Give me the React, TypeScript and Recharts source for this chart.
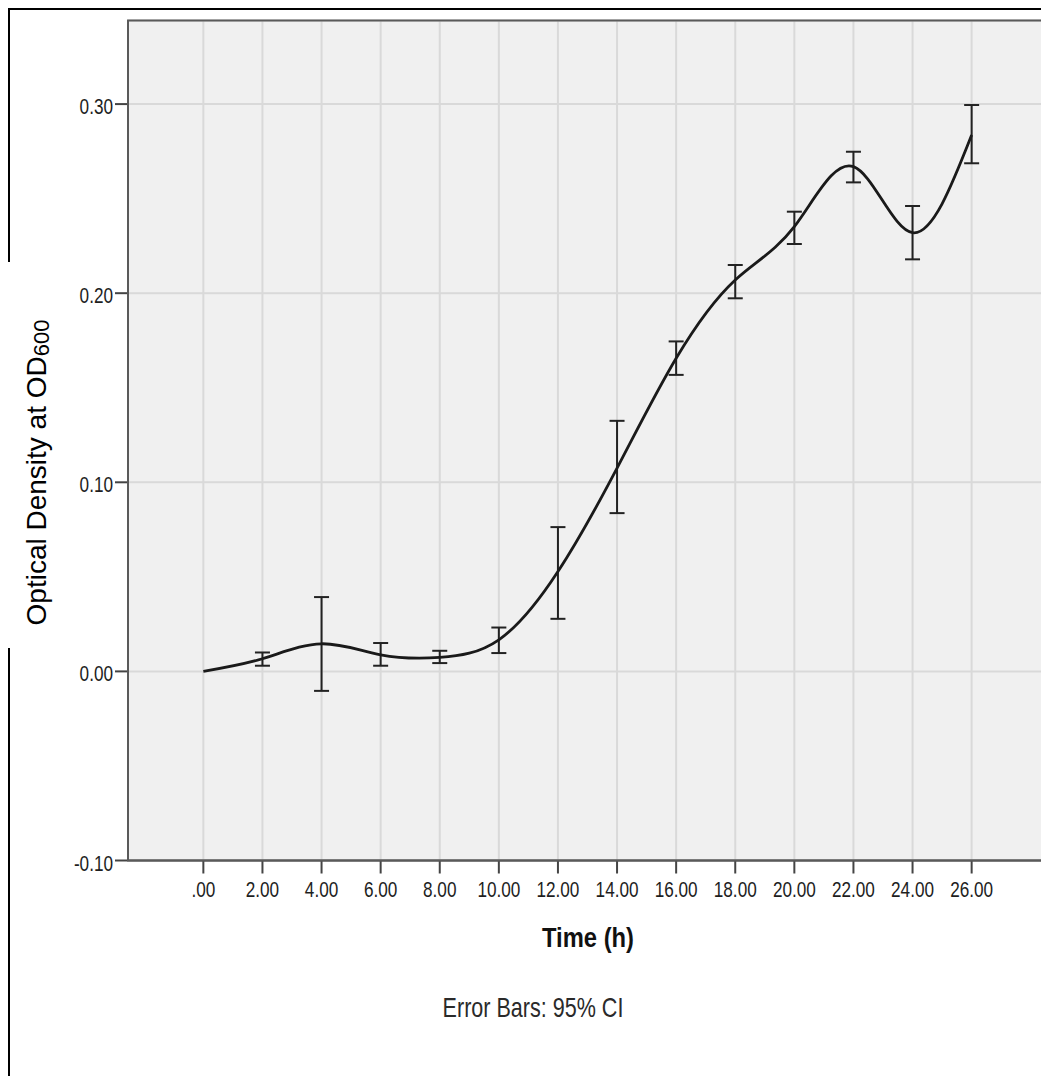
import { LineChart, Line, XAxis, YAxis, CartesianGrid, ErrorBar } from 'recharts'

// time points (h)
const times = [0, 2, 4, 6, 8, 10, 12, 14, 16, 18, 20, 22, 24, 26]
// mean OD600
const means = [0.0, 0.0067, 0.0146, 0.0088, 0.0074, 0.0167, 0.0528, 0.1075, 0.1656, 0.207, 0.2352, 0.2669, 0.232, 0.2836]
// 95% CI bounds (no bar at t = 0)
const lower = [null, 0.003, -0.0103, 0.003, 0.0044, 0.0097, 0.0278, 0.0837, 0.1568, 0.1973, 0.226, 0.2586, 0.2179, 0.2687]
const upper = [null, 0.01, 0.0393, 0.015, 0.0109, 0.0232, 0.0763, 0.1325, 0.1745, 0.2149, 0.2431, 0.2748, 0.2461, 0.2995]

const xTicks = [0, 2, 4, 6, 8, 10, 12, 14, 16, 18, 20, 22, 24, 26]
const yTicks = [-0.1, 0, 0.1, 0.2, 0.3]

const X_DOMAIN: [number, number] = [-2.55, 28.54]
const Y_DOMAIN: [number, number] = [-0.1, 0.3442]

const data = times.map((t, i) => ({
  time: t,
  od: means[i],
  ci: lower[i] == null || upper[i] == null ? null : [means[i] - (lower[i] as number), (upper[i] as number) - means[i]],
}))

const FONT = 'Arial, "Liberation Sans", sans-serif'

const W = 1041
const H = 1076
const M = { top: 12.5, right: 2.3, bottom: 183.5, left: 0 }
const Y_AXIS_W = 120
const X_AXIS_H = 40

// SPSS-ish narrow tick labels
function XTick(props: any) {
  const { x, y, payload } = props
  const v = Number(payload.value)
  const label = v === 0 ? '.00' : v.toFixed(2)
  return (
    <text transform={`translate(${x},${y + 21}) scale(0.78,1)`} textAnchor="middle" fontSize={22} fontFamily={FONT} fill="#1e1e1e">
      {label}
    </text>
  )
}

function YTick(props: any) {
  const { x, y, payload } = props
  const label = Number(payload.value).toFixed(2)
  return (
    <text transform={`translate(${x},${y + 10}) scale(0.78,1)`} textAnchor="end" fontSize={22} fontFamily={FONT} fill="#1e1e1e">
      {label}
    </text>
  )
}

export default function App() {
  const plotX = M.left + Y_AXIS_W
  const plotY = M.top
  const plotW = W - M.right - plotX
  const plotH = H - M.bottom - X_AXIS_H - plotY
  return (
    // negative bottom margin keeps the page from overflowing the window
    <div style={{ position: 'relative', width: W, height: H, marginBottom: -8, background: '#fff', overflow: 'hidden' }}>
      <LineChart width={W} height={H} data={data} margin={M}>
        <CartesianGrid stroke="#d9d9d9" strokeWidth={2} fill="#f0f0f0" />
        <XAxis
          dataKey="time"
          type="number"
          domain={X_DOMAIN}
          ticks={xTicks}
          interval={0}
          allowDataOverflow
          height={X_AXIS_H}
          tickSize={13}
          tick={<XTick />}
          axisLine={{ stroke: '#555', strokeWidth: 2 }}
          tickLine={{ stroke: '#444', strokeWidth: 2 }}
        />
        <YAxis
          type="number"
          domain={Y_DOMAIN}
          ticks={yTicks}
          interval={0}
          allowDataOverflow
          width={Y_AXIS_W}
          tickSize={13}
          tick={<YTick />}
          axisLine={{ stroke: '#555', strokeWidth: 2 }}
          tickLine={{ stroke: '#444', strokeWidth: 2 }}
        />
        <Line
          type="natural"
          dataKey="od"
          stroke="#1a1a1a"
          strokeWidth={2.8}
          dot={false}
          activeDot={false}
          isAnimationActive={false}
        >
          <ErrorBar dataKey="ci" width={7.5} stroke="#222" strokeWidth={2} isAnimationActive={false} />
        </Line>
      </LineChart>
      <svg width={W} height={H} style={{ position: 'absolute', left: 0, top: 0, zIndex: 10, pointerEvents: 'none' }}>
        {/* plot box */}
        <rect x={plotX} y={plotY} width={plotW} height={plotH} fill="none" stroke="#5a5a5a" strokeWidth={2} />
        {/* outer frame, interrupted by the y label box */}
        <line x1={0} y1={1} x2={W} y2={1} stroke="#000" strokeWidth={2} />
        <line x1={1} y1={0} x2={1} y2={254} stroke="#000" strokeWidth={2} />
        <line x1={1} y1={640} x2={1} y2={H} stroke="#000" strokeWidth={2} />
        <text transform="translate(38,464.5) rotate(-90)" textAnchor="middle" fontSize={28} fontFamily={FONT} fill="#000">
          Optical Density at OD
          <tspan fontSize={22} dy={3}>600</tspan>
        </text>
        <text transform="translate(580,939) scale(0.88,1)" textAnchor="middle" fontSize={27} fontWeight="bold" fontFamily={FONT} fill="#111">
          Time (h)
        </text>
        <text transform="translate(525,1008.5) scale(0.77,1)" textAnchor="middle" fontSize={28} fontFamily={FONT} fill="#2a2a2a">
          Error Bars: 95% CI
        </text>
      </svg>
    </div>
  )
}
